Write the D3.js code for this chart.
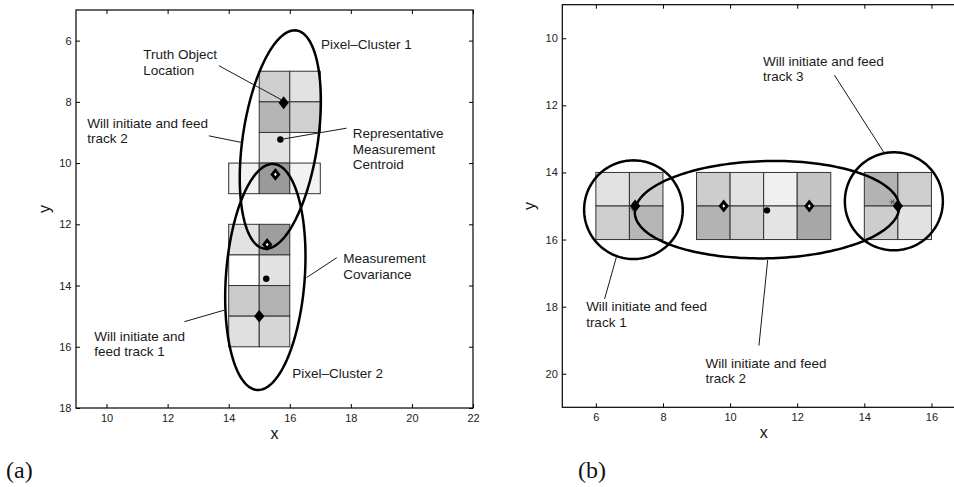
<!DOCTYPE html>
<html>
<head>
<meta charset="utf-8">
<script src="https://cdn.jsdelivr.net/npm/d3@7"></script>
<style>
  body { margin: 0; background: #ffffff; }
  svg { display: block; font-family: "Liberation Sans", Arial, Helvetica, sans-serif; }
</style>
</head>
<body>
<svg id="fig" width="954" height="487"></svg>
<script>
// ---------- Panel (a): two pixel clusters stacked along y ----------
const xDomainA = [9, 22];
const yDomainA = [5, 18];
const xTicksA = [10, 12, 14, 16, 18, 20, 22];
const yTicksA = [6, 8, 10, 12, 14, 16, 18];

// pixel cells: lower-left corner (x, y) in data units, v = pixel intensity (0..1)
const cellsA = [
  { x: 15, y: 7,  v: 0.38 }, { x: 16, y: 7,  v: 0.23 },
  { x: 15, y: 8,  v: 0.58 }, { x: 16, y: 8,  v: 0.37 },
  { x: 15, y: 9,  v: 0.23 },
  { x: 14, y: 10, v: 0.10 }, { x: 15, y: 10, v: 0.79 }, { x: 16, y: 10, v: 0.10 },
  { x: 14, y: 12, v: 0.23 }, { x: 15, y: 12, v: 0.76 },
  { x: 14, y: 13, v: 0.00 }, { x: 15, y: 13, v: 0.23 },
  { x: 14, y: 14, v: 0.41 }, { x: 15, y: 14, v: 0.60 },
  { x: 14, y: 15, v: 0.24 }, { x: 15, y: 15, v: 0.32 }
];
// truth object locations
const truthA = [
  { x: 15.80, y: 8.03,  hollow: false },
  { x: 15.53, y: 10.37, hollow: true },
  { x: 15.26, y: 12.66, hollow: true },
  { x: 15.00, y: 15.00, hollow: false }
];
// representative measurement centroids
const centroidsA = [
  { x: 15.69, y: 9.23 },
  { x: 15.23, y: 13.78 }
];
// measurement covariance ellipses: centre, semi-axes, major-axis angle (deg from +x)
const ellipsesA = [
  { cx: 15.69, cy: 9.23,  a: 3.60, b: 1.23, angle: 81.5 },
  { cx: 15.20, cy: 13.72, a: 3.70, b: 1.29, angle: 85.8 }
];
const notesA = [
  { x: 17.02, y: 6.28,  lines: ["Pixel\u2013Cluster 1"] },
  { x: 11.20, y: 6.61,  lines: ["Truth Object", "Location"] },
  { x: 9.37,  y: 8.84,  lines: ["Will initiate and feed", "track 2"] },
  { x: 18.06, y: 9.19,  lines: ["Representative", "Measurement", "Centroid"] },
  { x: 17.75, y: 13.27, lines: ["Measurement", "Covariance"] },
  { x: 9.60,  y: 15.81, lines: ["Will initiate and", "feed track 1"] },
  { x: 16.08, y: 17.01, lines: ["Pixel\u2013Cluster 2"] }
];
const leadersA = [
  { x1: 13.68, y1: 6.82,  x2: 15.74, y2: 7.94 },
  { x1: 13.35, y1: 9.11,  x2: 14.44, y2: 9.33 },
  { x1: 17.86, y1: 8.86,  x2: 15.75, y2: 9.22 },
  { x1: 17.54, y1: 13.09, x2: 16.55, y2: 13.74 },
  { x1: 12.55, y1: 15.18, x2: 13.87, y2: 14.80 }
];

// ---------- Panel (b): three pixel clusters along x ----------
const xDomainB = [5, 17];
const yDomainB = [9, 21];
const xTicksB = [6, 8, 10, 12, 14, 16];
const yTicksB = [10, 12, 14, 16, 18, 20];

const cellsB = [
  { x: 6,  y: 14, v: 0.23 }, { x: 7,  y: 14, v: 0.38 },
  { x: 6,  y: 15, v: 0.38 }, { x: 7,  y: 15, v: 0.57 },
  { x: 9,  y: 14, v: 0.39 }, { x: 10, y: 14, v: 0.23 }, { x: 11, y: 14, v: 0.12 }, { x: 12, y: 14, v: 0.46 },
  { x: 9,  y: 15, v: 0.59 }, { x: 10, y: 15, v: 0.38 }, { x: 11, y: 15, v: 0.21 }, { x: 12, y: 15, v: 0.69 },
  { x: 14, y: 14, v: 0.59 }, { x: 15, y: 14, v: 0.38 },
  { x: 14, y: 15, v: 0.39 }, { x: 15, y: 15, v: 0.23 }
];
const truthB = [
  { x: 7.17,  y: 15.0, hollow: false },
  { x: 9.81,  y: 15.0, hollow: true },
  { x: 12.36, y: 15.0, hollow: true },
  { x: 15.00, y: 15.0, hollow: false }
];
const centroidsB = [
  { x: 11.10, y: 15.13 }
];
// cluster centroids of the single-object clusters
const starsB = [
  { x: 7.12,  y: 15.08 },
  { x: 14.84, y: 14.88 }
];
const ellipsesB = [
  { cx: 7.12,  cy: 15.11, a: 1.47, b: 1.47, angle: 0 },
  { cx: 11.10, cy: 15.11, a: 3.94, b: 1.45, angle: 1.3 },
  { cx: 14.88, cy: 14.86, a: 1.46, b: 1.46, angle: 0 }
];
const notesB = [
  { x: 10.98, y: 10.82, lines: ["Will initiate and feed", "track 3"] },
  { x: 5.71,  y: 18.13, lines: ["Will initiate and feed", "track 1"] },
  { x: 9.27,  y: 19.82, lines: ["Will initiate and feed", "track 2"] }
];
const leadersB = [
  { x1: 13.11, y1: 11.10, x2: 14.60, y2: 13.43 },
  { x1: 6.26,  y1: 17.77, x2: 6.61,  y2: 16.53 },
  { x1: 10.86, y1: 19.16, x2: 11.12, y2: 16.61 }
];

// ---------- drawing ----------
const svg = d3.select("#fig");
const shade = d3.scaleLinear().domain([0, 1]).range(["#ffffff", "#7f7f7f"]);
const ink = "#1a1a1a";

function ellipsePoints(e) {
  const r = e.angle * Math.PI / 180;
  // data y grows downward on screen, so "up" is -y
  const ux = Math.cos(r), uy = -Math.sin(r);
  const vx = Math.sin(r), vy = Math.cos(r);
  return d3.range(0, 361, 2).map(d => {
    const t = d * Math.PI / 180;
    return [e.cx + e.a * Math.cos(t) * ux + e.b * Math.sin(t) * vx,
            e.cy + e.a * Math.cos(t) * uy + e.b * Math.sin(t) * vy];
  });
}

function drawPanel(p) {
  const x = d3.scaleLinear().domain(p.xDomain).range([p.left, p.right]);
  const y = d3.scaleLinear().domain(p.yDomain).range([p.top, p.bottom]);
  const g = svg.append("g");

  // pixel cells
  g.selectAll("rect.cell").data(p.cells).enter().append("rect")
    .attr("class", "cell")
    .attr("x", d => x(d.x))
    .attr("y", d => y(d.y))
    .attr("width", d => x(d.x + 1) - x(d.x))
    .attr("height", d => y(d.y + 1) - y(d.y))
    .attr("fill", d => shade(d.v))
    .attr("stroke", "#333")
    .attr("stroke-width", 1);

  // covariance ellipses
  const line = d3.line().x(d => x(d[0])).y(d => y(d[1])).curve(d3.curveLinearClosed);
  g.selectAll("path.ell").data(p.ellipses).enter().append("path")
    .attr("class", "ell")
    .attr("d", d => line(ellipsePoints(d)))
    .attr("fill", "none")
    .attr("stroke", "#000")
    .attr("stroke-width", 2.5);

  // cluster centroid asterisks
  const star = "M-3,0L3,0M-1.5,-2.6L1.5,2.6M-1.5,2.6L1.5,-2.6";
  g.selectAll("path.star").data(p.stars || []).enter().append("path")
    .attr("class", "star")
    .attr("transform", d => `translate(${x(d.x)},${y(d.y)})`)
    .attr("d", star)
    .attr("stroke", "#555")
    .attr("stroke-width", 1);

  // centroid dots
  g.selectAll("circle.cen").data(p.centroids).enter().append("circle")
    .attr("class", "cen")
    .attr("cx", d => x(d.x))
    .attr("cy", d => y(d.y))
    .attr("r", 3.2)
    .attr("fill", "#000");

  // truth diamonds
  const diamond = "M0,-4.1L3.3,0L0,4.1L-3.3,0Z";
  g.selectAll("path.truth").data(p.truth).enter().append("path")
    .attr("class", "truth")
    .attr("transform", d => `translate(${x(d.x)},${y(d.y)})`)
    .attr("d", diamond)
    .attr("fill", d => d.hollow ? "#fff" : "#000")
    .attr("stroke", "#000")
    .attr("stroke-width", 2.9)
    .attr("stroke-linejoin", "miter");

  // leader lines
  g.selectAll("line.lead").data(p.leaders).enter().append("line")
    .attr("class", "lead")
    .attr("x1", d => x(d.x1)).attr("y1", d => y(d.y1))
    .attr("x2", d => x(d.x2)).attr("y2", d => y(d.y2))
    .attr("stroke", ink)
    .attr("stroke-width", 1);

  // annotation text
  const notes = g.selectAll("text.note").data(p.notes).enter().append("text")
    .attr("class", "note")
    .attr("x", d => x(d.x))
    .attr("y", d => y(d.y))
    .attr("font-size", "13.5px")
    .attr("fill", ink);
  notes.selectAll("tspan").data(d => d.lines.map(s => ({ s, x: d.x }))).enter().append("tspan")
    .attr("x", d => x(d.x))
    .attr("dy", (d, i) => i === 0 ? 0 : 15.5)
    .text(d => d.s);

  // axes with inward ticks on all four sides
  const styleAxis = sel => {
    sel.select(".domain").remove();
    sel.selectAll(".tick line").attr("stroke", "#000");
    sel.selectAll(".tick text").attr("fill", "#222").attr("font-size", "11px")
      .attr("font-family", "'Liberation Sans', Arial, sans-serif");
  };
  g.append("g").attr("transform", `translate(0,${p.bottom})`)
    .call(d3.axisBottom(x).tickValues(p.xTicks).tickSizeInner(-4).tickSizeOuter(0).tickPadding(6))
    .call(styleAxis);
  g.append("g").attr("transform", `translate(0,${p.top})`)
    .call(d3.axisTop(x).tickValues(p.xTicks).tickSizeInner(-4).tickSizeOuter(0).tickFormat(""))
    .call(styleAxis);
  g.append("g").attr("transform", `translate(${p.left},0)`)
    .call(d3.axisLeft(y).tickValues(p.yTicks).tickSizeInner(-4).tickSizeOuter(0).tickPadding(4.5))
    .call(styleAxis);
  g.append("g").attr("transform", `translate(${p.right},0)`)
    .call(d3.axisRight(y).tickValues(p.yTicks).tickSizeInner(-4).tickSizeOuter(0).tickFormat(""))
    .call(styleAxis);

  // frame
  g.append("rect")
    .attr("x", p.left).attr("y", p.top)
    .attr("width", p.right - p.left).attr("height", p.bottom - p.top)
    .attr("fill", "none").attr("stroke", "#000").attr("stroke-width", 1.2);

  // axis titles
  g.append("text")
    .attr("x", (p.left + p.right) / 2).attr("y", p.bottom + 31)
    .attr("text-anchor", "middle").attr("font-size", "16px").attr("fill", "#111")
    .text("x");
  g.append("text")
    .attr("transform", `translate(${p.yLabelX},${(p.top + p.bottom) / 2}) rotate(-90)`)
    .attr("text-anchor", "middle").attr("font-size", "16px").attr("fill", "#111")
    .text("y");

  // panel tag
  g.append("text")
    .attr("x", p.tagX).attr("y", 478)
    .attr("font-family", "'Liberation Serif', 'Times New Roman', serif")
    .attr("font-size", "24px").attr("fill", "#111")
    .text(p.tag);
}

drawPanel({
  xDomain: xDomainA, yDomain: yDomainA, xTicks: xTicksA, yTicks: yTicksA,
  left: 76, right: 473, top: 10, bottom: 408,
  cells: cellsA, truth: truthA, centroids: centroidsA, ellipses: ellipsesA,
  notes: notesA, leaders: leadersA, yLabelX: 49.5, tag: "(a)", tagX: 6
});
drawPanel({
  xDomain: xDomainB, yDomain: yDomainB, xTicks: xTicksB, yTicks: yTicksB,
  left: 562.3, right: 965, top: 4.7, bottom: 407.3,
  cells: cellsB, truth: truthB, centroids: centroidsB, stars: starsB, ellipses: ellipsesB,
  notes: notesB, leaders: leadersB, yLabelX: 535, tag: "(b)", tagX: 578
});
</script>
</body>
</html>
